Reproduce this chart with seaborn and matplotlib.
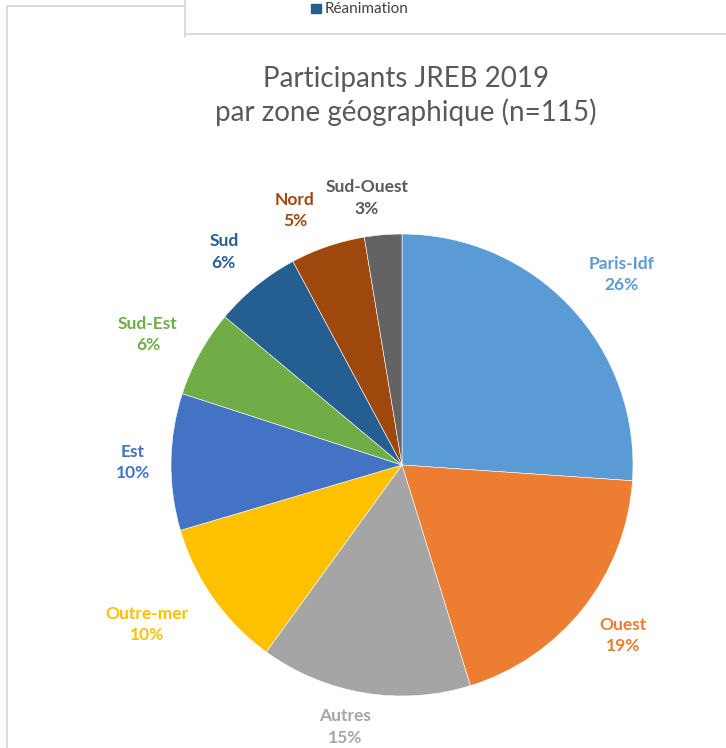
import numpy as np
import matplotlib
matplotlib.use("Agg")
import matplotlib.pyplot as plt
from matplotlib.lines import Line2D
from matplotlib.patches import Rectangle
import seaborn as sns

sns.set_style("white")
plt.rcParams['font.family'] = ['Lato', 'DejaVu Sans']

# Data (counts out of n=115)
zones = ["Paris-Idf", "Ouest", "Autres", "Outre-mer", "Est", "Sud-Est", "Sud", "Nord", "Sud-Ouest"]
counts = [30, 22, 17, 12, 11, 7, 7, 6, 3]
pct_labels = ["26%", "19%", "15%", "10%", "10%", "6%", "6%", "5%", "3%"]
title = "Participants JREB 2019\npar zone géographique (n=115)"

colors = ["#5B9BD5", "#ED7D31", "#A5A5A5", "#FFC000", "#4472C4",
          "#70AD47", "#255E91", "#9E480E", "#636363"]
label_colors = ["#5B9BD5", "#ED7D31", "#A5A5A5", "#FFC000", "#4472C4",
                "#70AD47", "#255E91", "#9E480E", "#595959"]
# label placement (radial distance + small nudges, axes units)
label_dist = 1.2
label_dx = [0.075, 0.016, -0.051, -0.124, 0.035, -0.05, -0.014, -0.077, -0.054]
label_dy = [0.005, 0.005, 0.050, 0.003, -0.004, -0.015, -0.009, -0.036, -0.040]

W, H = 726, 748
fig = plt.figure(figsize=(W / 100, H / 100), dpi=100)
fig.patch.set_facecolor("white")

# screenshot frame remnants
frame_c = "#d9d9d9"
def px(x, y):
    return x / W, 1 - y / H
fig.add_artist(Line2D([px(7, 0)[0]] * 2, [px(0, 6)[1], 0], color=frame_c, lw=1.3))
fig.add_artist(Line2D([px(7, 0)[0], px(185, 0)[0]], [px(0, 6)[1]] * 2, color=frame_c, lw=1.3))
fig.add_artist(Line2D([px(185, 0)[0]] * 2, [1, px(0, 37)[1]], color=frame_c, lw=1.3))
fig.add_artist(Line2D([px(185, 0)[0], 1], [px(0, 34)[1]] * 2, color=frame_c, lw=1.3))
fig.add_artist(Rectangle(px(311, 13), 10 / W, 9 / H, color="#255E91"))
fig.text(*px(325, 9), "Réanimation", fontsize=11, color="#404040", va="center", ha="left")

# pie
cx, cy, r = 402, 465, 231
ax = fig.add_axes([(cx - r) / W, (H - cy - r) / H, 2 * r / W, 2 * r / H])
wedges, _ = ax.pie(counts, colors=colors, startangle=90, counterclock=False,
                   wedgeprops=dict(edgecolor="white", linewidth=0.4))
ax.set_xlim(-1, 1)
ax.set_ylim(-1, 1)
ax.set_aspect("equal")
ax.axis("off")

for w, name, pct, c, dx, dy in zip(wedges, zones, pct_labels, label_colors, label_dx, label_dy):
    ang = np.deg2rad((w.theta1 + w.theta2) / 2)
    x = label_dist * np.cos(ang) + dx
    y = label_dist * np.sin(ang) + dy
    ax.text(x, y, f"{name}\n{pct}", ha="center", va="center", color=c,
            fontsize=12.5, fontweight="bold", linespacing=1.4, clip_on=False)

fig.text(px(406, 0)[0], px(0, 96)[1], title, ha="center", va="center",
         fontsize=20, color="#595959", linespacing=1.3)

fig.savefig("out.png", dpi=100, facecolor="white")
